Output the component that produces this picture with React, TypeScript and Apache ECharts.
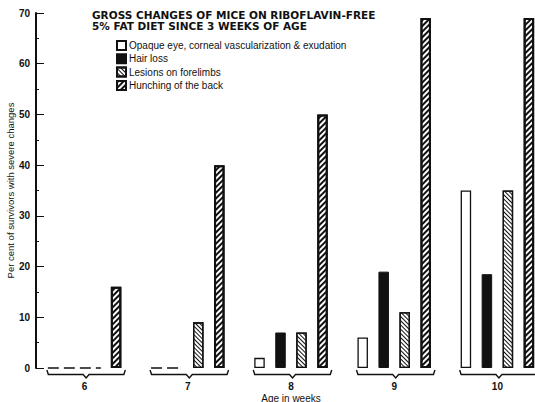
import React, { useEffect, useRef } from 'react';
import * as echarts from 'echarts';

const categories = ['6', '7', '8', '9', '10'];
const seriesNames = [
  'Opaque eye, corneal vascularization & exudation',
  'Hair loss',
  'Lesions on forelimbs',
  'Hunching of the back',
];
const opaqueEye = [0, 0, 2, 6, 35];
const hairLoss = [0, 0, 7, 19, 18.5];
const lesions = [0, 9, 7, 11, 35];
const hunching = [16, 40, 50, 69, 69];
const titleText = 'GROSS CHANGES OF MICE ON RIBOFLAVIN-FREE\n5% FAT DIET SINCE 3 WEEKS OF AGE';
const xName = 'Age in weeks';
const yName = 'Per cent of survivors with severe changes';

const BAR_W = 10.5;
const FONT = '"Liberation Sans", Arial, sans-serif';

export default function App() {
  const ref = useRef<HTMLDivElement>(null);
  useEffect(() => {
    if (!ref.current) return;
    const chart = echarts.init(ref.current, undefined, { renderer: 'svg' });
    const all = [opaqueEye, hairLoss, lesions, hunching];
    // number of leading zero-valued series per category
    const zeroData = categories.map((_, i) => {
      let n = 0;
      while (n < all.length && all[n][i] === 0) n++;
      return [i, n];
    });
    const braceData = categories.map((_, i) => [i, 0]);

    const barBase = { type: 'bar', barWidth: BAR_W, barGap: '100%' };

    chart.setOption({
      animation: false,
      backgroundColor: '#fff',
      title: {
        text: titleText,
        left: 92,
        top: 9,
        padding: 0,
        textStyle: {
          fontFamily: '"DejaVu Sans", sans-serif',
          fontSize: 10.5,
          fontWeight: 'bold',
          color: '#111',
          lineHeight: 11,
        },
      },
      legend: {
        data: seriesNames,
        orient: 'vertical',
        left: 116,
        top: 40,
        padding: 0,
        itemWidth: 9,
        itemHeight: 9,
        itemGap: 2.3,
        icon: 'rect',
        textStyle: { fontFamily: FONT, fontSize: 10, color: '#111', padding: [0, 0, 0, -2] },
      },
      grid: { left: 33, top: 13, width: 516, height: 355, outerBoundsMode: 'none', containLabel: false },
      xAxis: {
        type: 'category',
        data: categories,
        axisLine: { show: false },
        axisTick: { show: false },
        axisLabel: { margin: 13, fontFamily: FONT, fontSize: 10, fontWeight: 'bold', color: '#111' },
        name: xName,
        nameLocation: 'middle',
        nameGap: 25,
        nameMoveOverlap: false,
        nameTextStyle: { fontFamily: FONT, fontSize: 10, color: '#111' },
      },
      yAxis: {
        type: 'value',
        min: 0,
        max: 70,
        interval: 10,
        offset: -3,
        splitLine: { show: false },
        axisLine: { show: true, lineStyle: { color: '#111', width: 2 } },
        axisTick: { show: true, inside: true, length: 8, lineStyle: { color: '#111', width: 1 } },
        minorTick: { show: true, splitNumber: 2, length: 3, lineStyle: { color: '#111' } },
        axisLabel: { margin: 6, fontFamily: FONT, fontSize: 10, fontWeight: 'bold', color: '#111' },
        name: yName,
        nameLocation: 'middle',
        nameGap: 21,
        nameMoveOverlap: false,
        nameTextStyle: { fontFamily: FONT, fontSize: 9.5, color: '#111' },
      },
      series: [
        {
          ...barBase,
          name: seriesNames[0],
          data: opaqueEye.map((v) => (v === 0 ? null : v)),
          itemStyle: { color: '#fff', borderColor: '#111', borderWidth: 1.3 },
        },
        {
          ...barBase,
          name: seriesNames[1],
          data: hairLoss.map((v) => (v === 0 ? null : v)),
          itemStyle: { color: '#111', borderColor: '#111', borderWidth: 1 },
        },
        {
          ...barBase,
          name: seriesNames[2],
          data: lesions.map((v) => (v === 0 ? null : v)),
          itemStyle: {
            color: '#fff',
            borderColor: '#111',
            borderWidth: 1.3,
            decal: {
              symbol: 'rect',
              symbolSize: 1,
              color: '#111',
              backgroundColor: '#fff',
              dashArrayX: [1, 0],
              dashArrayY: [1, 1.6],
              rotation: Math.PI / 4,
            },
          },
        },
        {
          ...barBase,
          name: seriesNames[3],
          data: hunching.map((v) => (v === 0 ? null : v)),
          itemStyle: {
            color: '#fff',
            borderColor: '#111',
            borderWidth: 2,
            decal: {
              symbol: 'rect',
              symbolSize: 1,
              color: '#111',
              backgroundColor: '#fff',
              dashArrayX: [1, 0],
              dashArrayY: [2, 2],
              rotation: -Math.PI / 4,
            },
          },
        },
        {
          type: 'custom',
          silent: true,
          data: zeroData,
          renderItem: (params: any, api: any) => {
            const n = api.value(1);
            if (!n) return null;
            const c = api.coord([api.value(0), 0]);
            const left = c[0] - 3.5 * BAR_W;
            const right = left + n * 2 * BAR_W - 10;
            return {
              type: 'line',
              shape: { x1: left, y1: c[1], x2: right, y2: c[1] },
              style: { stroke: '#111', lineWidth: 1.3, lineDash: [11, 5] },
            };
          },
        },
        {
          type: 'custom',
          silent: true,
          data: braceData,
          renderItem: (params: any, api: any) => {
            const c = api.coord([api.value(0), 0]);
            const L = c[0] - 3.5 * BAR_W - 1;
            const R = c[0] + 3.5 * BAR_W + 4;
            const m = (L + R) / 2;
            const y = c[1];
            return {
              type: 'polyline',
              shape: {
                points: [
                  [L, y + 2],
                  [L + 1.5, y + 6.5],
                  [m - 3, y + 6.5],
                  [m, y + 10],
                  [m + 3, y + 6.5],
                  [R - 1.5, y + 6.5],
                  [R, y + 2],
                ],
              },
              style: { stroke: '#111', lineWidth: 1.4, fill: 'none' },
            };
          },
        },
      ],
    });
    return () => chart.dispose();
  }, []);
  return <div ref={ref} style={{ width: 535, height: 402, position: 'absolute', left: 0, top: 0 }} />;
}
